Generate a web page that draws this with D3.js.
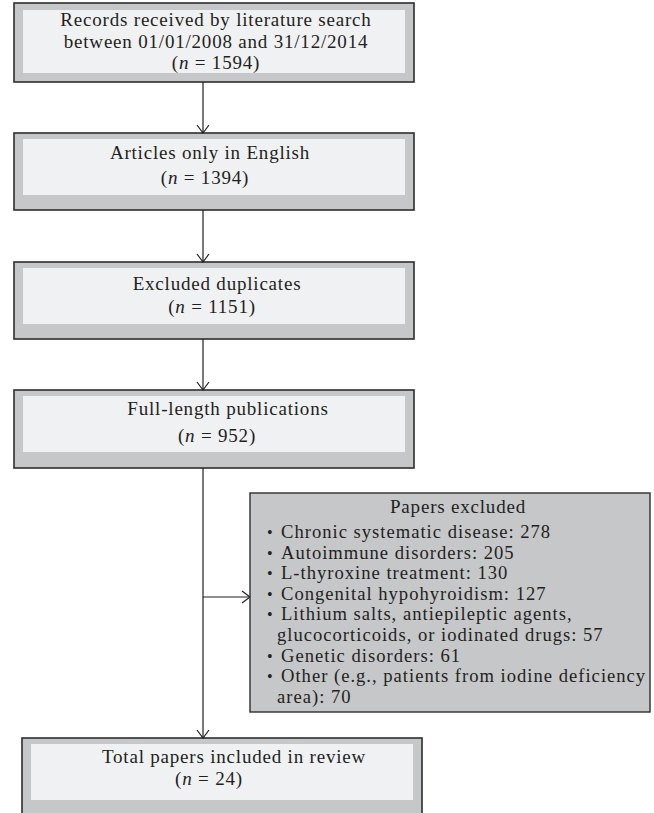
<!DOCTYPE html>
<html><head><meta charset="utf-8">
<script src="https://cdn.jsdelivr.net/npm/d3@7"></script>
<style>html,body{margin:0;padding:0;background:#fff;}svg{display:block;}</style>
</head><body>
<div id="chart"></div>
<script>
// ---- data ----
const stageLabels = [
  ["Records received by literature search", "between 01/01/2008 and 31/12/2014"],
  ["Articles only in English"],
  ["Excluded duplicates"],
  ["Full-length publications"],
  ["Total papers included in review"]
];
const stageCounts = [1594, 1394, 1151, 952, 24];
const excludedTitle = "Papers excluded";
const excludedReasons = [
  ["Chronic systematic disease"],
  ["Autoimmune disorders"],
  ["L-thyroxine treatment"],
  ["Congenital hypohyroidism"],
  ["Lithium salts, antiepileptic agents,", "glucocorticoids, or iodinated drugs"],
  ["Genetic disorders"],
  ["Other (e.g., patients from iodine deficiency", "area)"]
];
const excludedCounts = [278, 205, 130, 127, 57, 61, 70];

// ---- layout ----
const W = 654, H = 813;
const FONT = "'Liberation Serif', 'Times New Roman', serif";
const FS = 19, LS = 0.8;
const FS_LIST = 18.6, LS_LIST = 1.0;
const ink = "#231f20";
const outerFill = "#c6c7c9", innerFill = "#f0f1f3";
const boxes = [
  {x0:14, x1:414, y0:3,   y1:82,  iy0:10,  iy1:73,  base:[26,47.5,69], dx:[2,2,2]},
  {x0:14, x1:414, y0:133, y1:210, iy0:139, iy1:195, base:[159,184], dx:[-4,-9]},
  {x0:14, x1:414, y0:262, y1:339, iy0:268, iy1:324, base:[290,313], dx:[3,-2]},
  {x0:14, x1:414, y0:390, y1:468, iy0:396, iy1:452, base:[415,442], dx:[14,3]},
  {x0:22, x1:422, y0:738, y1:835, iy0:744, iy1:800, base:[763,785], dx:[12,-13]}
];
const pad = 9;
const exBox = {x0:250, x1:650, y0:493, y1:712};

const svg = d3.select("#chart").append("svg").attr("width", W).attr("height", H)
  .style("font-family", FONT).style("font-size", FS + "px").style("letter-spacing", LS + "px");

// boxes
const g = svg.selectAll("g.stage").data(stageLabels.map((l, i) => ({lines: l, n: stageCounts[i], b: boxes[i]})))
  .join("g").attr("class", "stage");
g.append("rect")
  .attr("x", d => d.b.x0).attr("y", d => d.b.y0)
  .attr("width", d => d.b.x1 - d.b.x0).attr("height", d => d.b.y1 - d.b.y0)
  .attr("fill", outerFill).attr("stroke", "#2e2e2e").attr("stroke-width", 1.6);
g.append("rect")
  .attr("x", d => d.b.x0 + pad).attr("y", d => d.b.iy0)
  .attr("width", d => d.b.x1 - d.b.x0 - 2 * pad).attr("height", d => d.b.iy1 - d.b.iy0)
  .attr("fill", innerFill);
g.each(function(d) {
  const cx = (d.b.x0 + d.b.x1) / 2;
  const sel = d3.select(this);
  d.lines.forEach((t, k) => {
    sel.append("text").attr("x", cx + d.b.dx[k]).attr("y", d.b.base[k])
      .attr("text-anchor", "middle").attr("fill", ink).text(t);
  });
  const k = d.lines.length;
  const t = sel.append("text").attr("x", cx + d.b.dx[k]).attr("y", d.b.base[k])
    .attr("text-anchor", "middle").attr("fill", ink);
  t.append("tspan").text("(");
  t.append("tspan").attr("font-style", "italic").text("n");
  t.append("tspan").text("\u00a0=\u00a0" + d.n + ")");
});

// connectors
const lineX = 203;
function vArrow(y0, y1) {
  svg.append("line").attr("x1", lineX).attr("x2", lineX).attr("y1", y0).attr("y2", y1)
    .attr("stroke", ink).attr("stroke-width", 1.2);
  svg.append("path").attr("d", `M${lineX-6},${y1-8}L${lineX},${y1}L${lineX+6},${y1-8}`)
    .attr("fill", "none").attr("stroke", ink).attr("stroke-width", 1.2);
}
for (let i = 0; i < boxes.length - 1; i++) vArrow(boxes[i].y1, boxes[i+1].y0);
const branchY = 597;
svg.append("line").attr("x1", lineX).attr("x2", exBox.x0).attr("y1", branchY).attr("y2", branchY)
  .attr("stroke", ink).attr("stroke-width", 1.2);
svg.append("path").attr("d", `M${exBox.x0-8},${branchY-6}L${exBox.x0},${branchY}L${exBox.x0-8},${branchY+6}`)
  .attr("fill", "none").attr("stroke", ink).attr("stroke-width", 1.2);

// excluded box
svg.append("rect").attr("x", exBox.x0).attr("y", exBox.y0)
  .attr("width", exBox.x1 - exBox.x0).attr("height", exBox.y1 - exBox.y0)
  .attr("fill", outerFill).attr("stroke", "#2e2e2e").attr("stroke-width", 1.4);
svg.append("text").attr("x", 458).attr("y", 513).attr("text-anchor", "middle").attr("fill", ink).text(excludedTitle);
const lineH = 20.6;
let row = 0;
const list = svg.append("g").style("font-size", FS_LIST + "px").style("letter-spacing", LS_LIST + "px");
excludedReasons.forEach((lines, i) => {
  lines.forEach((t, k) => {
    const y = 538 + row * lineH;
    const last = k === lines.length - 1;
    const txt = t + (last ? ": " + excludedCounts[i] : "");
    if (k === 0) {
      list.append("text").attr("x", 267).attr("y", y).attr("fill", ink).style("font-size", "16px").text("\u2022");
      list.append("text").attr("x", 281).attr("y", y).attr("fill", ink).text(txt);
    } else {
      list.append("text").attr("x", 277).attr("y", y).attr("fill", ink).text(txt);
    }
    row++;
  });
});
</script>
</body></html>
